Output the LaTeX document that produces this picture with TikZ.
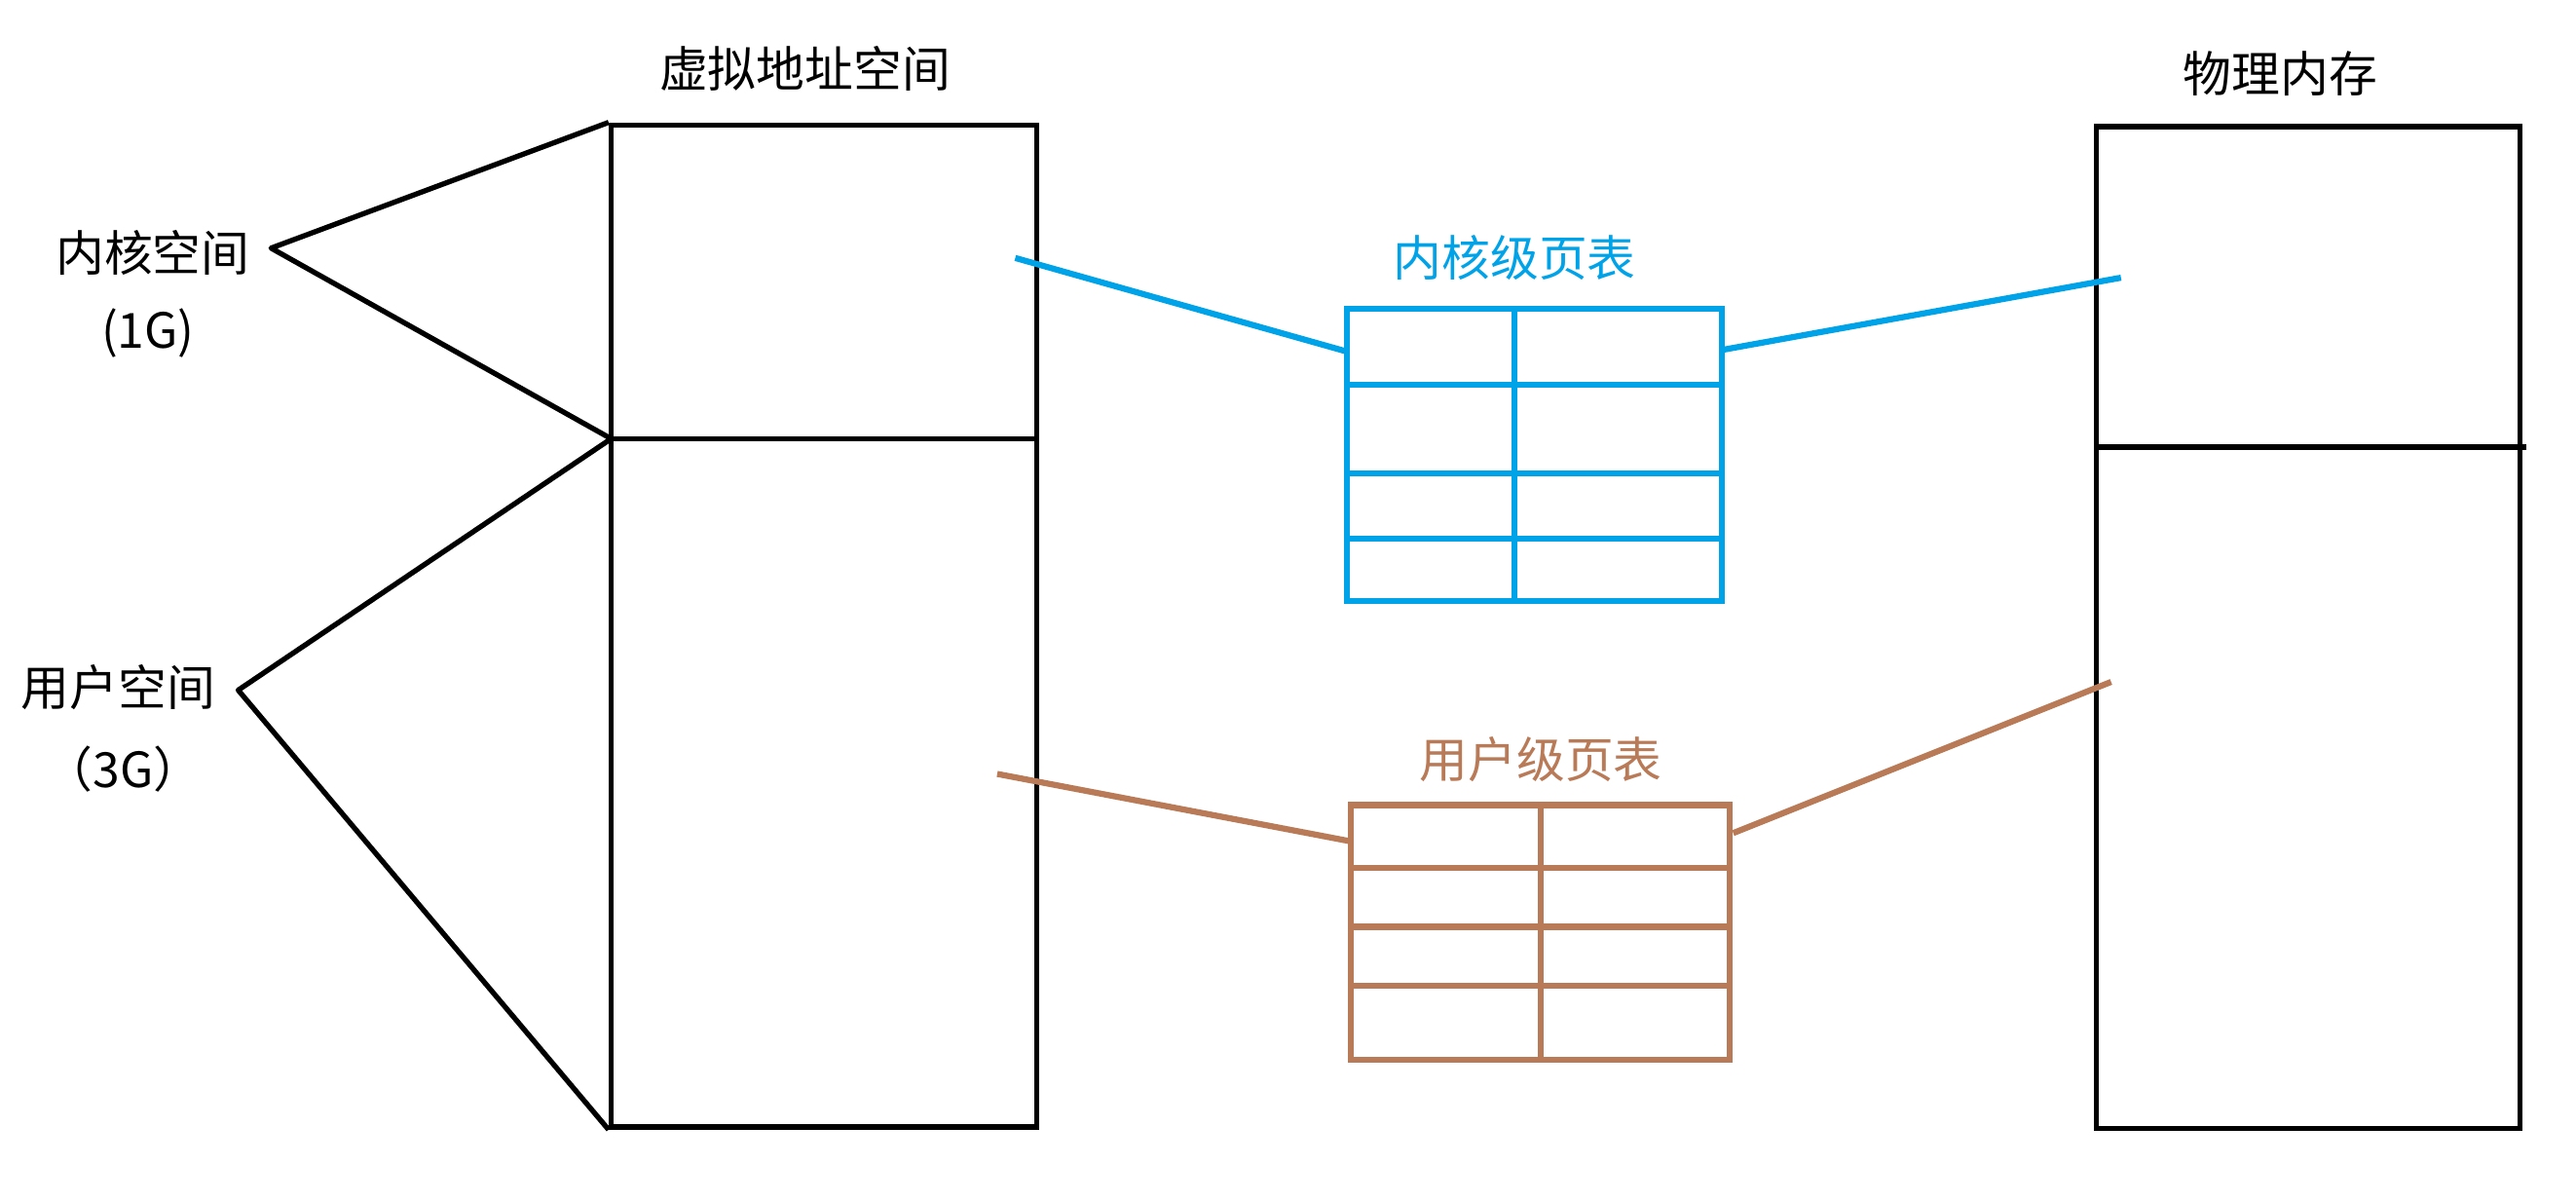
\documentclass[tikz,border=0pt]{standalone}
\usepackage{fontspec}
\setmainfont{Noto Sans CJK SC}
\definecolor{kblue}{HTML}{00A2E8}
\definecolor{ubrown}{HTML}{B97A57}
\begin{document}
\begin{tikzpicture}[x=0.02cm,y=-0.02cm,
  box/.style={draw=black, line width=1.8pt, rectangle, inner sep=0pt},
  lab/.style={font=\fontsize{16.8}{20}\selectfont, inner sep=0pt},
  bline/.style={draw=black, line width=1.8pt, line join=round},
  kline/.style={draw=kblue, line width=2.1pt},
  uline/.style={draw=ubrown, line width=2.1pt},
  ktable/.style={draw=kblue, line width=2.1pt, rectangle, inner sep=0pt},
  utable/.style={draw=ubrown, line width=2.1pt, rectangle, inner sep=0pt}]
\useasboundingbox[fill=white] (0,0) rectangle (1568,731);

% boxes
\node[box, minimum width=5.18cm, minimum height=12.2cm] (vbox) at (501.5,381) {};
\node[box, minimum width=5.16cm, minimum height=12.2cm] (pbox) at (1405,382) {};

% titles
\node[lab] (vtitle) at (490,42) {虚拟地址空间};
\node[lab] (ptitle) at (1388,45) {物理内存};

% dividers
\coordinate (vdl) at (372,267);
\coordinate (pdl) at (1276,272);
\coordinate (pdr) at (1538,272);
\draw[bline] (vdl) -- (vdl -| vbox.east);
\draw[bline] (pdl) -- (pdr);

% left labels and brackets
\node[lab] (klab) at (93,154) {内核空间};
\node[lab] (ksize) at (90,203) {(1G)};
\node[lab] (ulab) at (72,418) {用户空间};
\node[lab] (usize) at (75,468) {（3G）};
\coordinate (kapex) at (165,151);
\coordinate (uapex) at (145,420);
\draw[bline] (vbox.north west) -- (kapex) -- (vdl);
\draw[bline] (vdl) -- (uapex) -- (vbox.south west);

% kernel page table
\node[lab, text=kblue] (kttitle) at (922,157) {内核级页表};
\node[ktable, minimum width=4.56cm, minimum height=3.56cm] (ktab) at (934,277) {};
\draw[kline] (922,188) -- (922,366);
\foreach \yy in {234,288,328} \draw[kline] (820,\yy) -- (1048,\yy);

% user page table
\node[lab, text=ubrown] (uttitle) at (938,462) {用户级页表};
\node[utable, minimum width=4.62cm, minimum height=3.1cm] (utab) at (937.5,567.5) {};
\draw[uline] (938,490) -- (938,645);
\foreach \yy in {528,564,600} \draw[uline] (822,\yy) -- (1053,\yy);

% connectors
\coordinate (kv) at (618,157);
\coordinate (kin) at (820,214);
\coordinate (kout) at (1048,213);
\coordinate (kp) at (1291,169);
\draw[kline] (kv) -- (kin);
\draw[kline] (kout) -- (kp);

\coordinate (uv) at (607,471);
\coordinate (uin) at (822,512);
\coordinate (uout) at (1055,507);
\coordinate (up) at (1285,415);
\draw[uline] (uv) -- (uin);
\draw[uline] (uout) -- (up);
\end{tikzpicture}
\end{document}
